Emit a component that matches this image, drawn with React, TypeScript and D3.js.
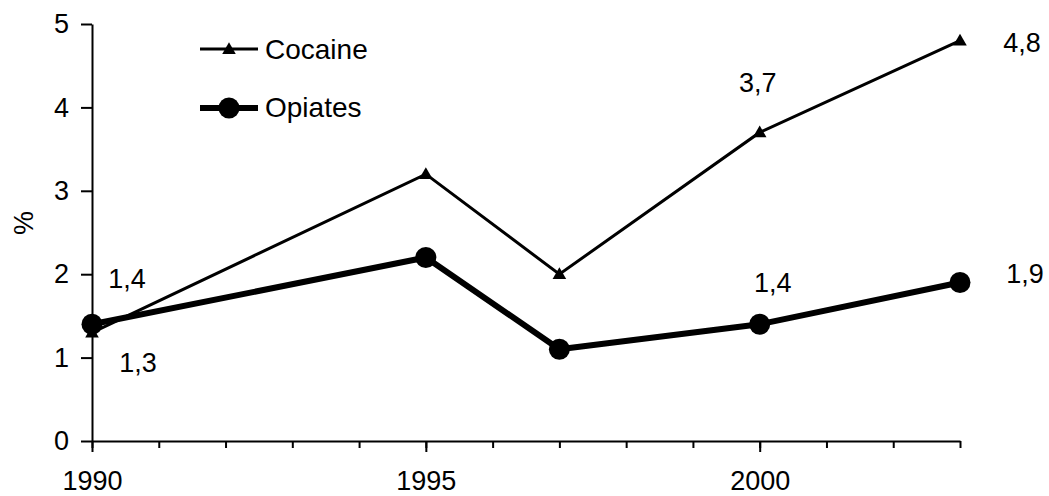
import React, { useEffect, useRef } from 'react'
import * as d3 from 'd3'

// data
const years = [1990, 1995, 1997, 2000, 2003]
const cocaine = [1.3, 3.2, 2.0, 3.7, 4.8]
const opiates = [1.4, 2.2, 1.1, 1.4, 1.9]
const yTicks = [0, 1, 2, 3, 4, 5]
const xTickYears = [1990, 1991, 1992, 1993, 1994, 1995, 1996, 1997, 1998, 1999, 2000, 2001, 2002, 2003]
const xLabelYears = [1990, 1995, 2000]
const seriesNames = ['Cocaine', 'Opiates']

// which points carry a value label
const cocaineLabelled = [0, 3, 4]
const opiatesLabelled = [0, 3, 4]

const W = 1049
const H = 496
const FONT = '"Liberation Sans", Arial, sans-serif'

function App() {
  const ref = useRef<SVGSVGElement>(null)

  useEffect(() => {
    const svg = d3.select(ref.current)
    svg.selectAll('*').remove()

    const x = d3.scaleLinear().domain([1990, 2003]).range([92, 960])
    const y = d3.scaleLinear().domain([0, 5]).range([441, 24])
    const fmt = (v: number) => d3.format('.1f')(v).replace('.', ',')

    const g = svg.append('g').attr('font-family', FONT)

    // y axis
    const yAxis = g.append('g')
      .attr('transform', 'translate(92,0)')
      .call(d3.axisLeft(y).tickValues(yTicks).tickSize(11).tickSizeOuter(0).tickPadding(12).tickFormat(d3.format('d')))
    yAxis.selectAll('text').attr('font-size', 27).attr('font-family', FONT).attr('fill', '#000')
    yAxis.selectAll('line, path').attr('stroke', '#000').attr('stroke-width', 2)

    // x axis: minor ticks every year
    const xMinor = g.append('g')
      .attr('transform', 'translate(0,441)')
      .call(d3.axisBottom(x).tickValues(xTickYears).tickSize(7).tickSizeOuter(0).tickFormat(() => ''))
    xMinor.selectAll('line, path').attr('stroke', '#000').attr('stroke-width', 2)

    // x axis: labelled major ticks
    const xMajor = g.append('g')
      .attr('transform', 'translate(0,441)')
      .call(d3.axisBottom(x).tickValues(xLabelYears).tickSize(11).tickSizeOuter(0).tickPadding(19).tickFormat(d3.format('d')))
    xMajor.select('path').remove()
    xMajor.selectAll('line').attr('stroke', '#000').attr('stroke-width', 2)
    xMajor.selectAll('text').attr('font-size', 27).attr('font-family', FONT).attr('fill', '#000')

    // y title
    g.append('text')
      .attr('transform', 'translate(33,223) rotate(-90)')
      .attr('text-anchor', 'middle')
      .attr('font-size', 27)
      .text('%')

    const line = d3.line<number>()
      .x((d, i) => x(years[i]))
      .y(d => y(d))

    const tri = d3.symbol().type(d3.symbolTriangle).size(80)

    // cocaine
    g.append('path')
      .datum(cocaine)
      .attr('d', line)
      .attr('fill', 'none')
      .attr('stroke', '#000')
      .attr('stroke-width', 3)
    g.append('g')
      .selectAll('path')
      .data(cocaine)
      .join('path')
      .attr('d', tri)
      .attr('transform', (d, i) => `translate(${x(years[i])},${y(d) + 1})`)
      .attr('fill', '#000')

    // opiates
    g.append('path')
      .datum(opiates)
      .attr('d', line)
      .attr('fill', 'none')
      .attr('stroke', '#000')
      .attr('stroke-width', 6)
      .attr('stroke-linejoin', 'round')
    g.append('g')
      .selectAll('circle')
      .data(opiates)
      .join('circle')
      .attr('cx', (d, i) => x(years[i]))
      .attr('cy', d => y(d))
      .attr('r', 10.5)
      .attr('fill', '#000')

    // value labels, offsets from the point
    const cocaineOffsets: Record<number, [number, number]> = { 0: [46, 39], 3: [-2, -40], 4: [62, 11] }
    const opiatesOffsets: Record<number, [number, number]> = { 0: [35, -36], 3: [13, -32], 4: [65, 0] }

    g.append('g')
      .selectAll('text')
      .data(cocaineLabelled)
      .join('text')
      .attr('x', i => x(years[i]) + cocaineOffsets[i][0])
      .attr('y', i => y(cocaine[i]) + cocaineOffsets[i][1])
      .attr('text-anchor', 'middle')
      .attr('font-size', 27)
      .text(i => fmt(cocaine[i]))

    g.append('g')
      .selectAll('text')
      .data(opiatesLabelled)
      .join('text')
      .attr('x', i => x(years[i]) + opiatesOffsets[i][0])
      .attr('y', i => y(opiates[i]) + opiatesOffsets[i][1])
      .attr('text-anchor', 'middle')
      .attr('font-size', 27)
      .text(i => fmt(opiates[i]))

    // legend
    const leg = g.append('g').attr('transform', 'translate(200,49)')
    leg.append('line').attr('x1', 0).attr('x2', 58).attr('y1', 0).attr('y2', 0)
      .attr('stroke', '#000').attr('stroke-width', 3)
    leg.append('path').attr('d', tri).attr('transform', 'translate(29,1)').attr('fill', '#000')
    leg.append('text').attr('x', 65).attr('y', 10).attr('font-size', 28).text(seriesNames[0])

    leg.append('line').attr('x1', 0).attr('x2', 58).attr('y1', 59).attr('y2', 59)
      .attr('stroke', '#000').attr('stroke-width', 6)
    leg.append('circle').attr('cx', 29).attr('cy', 59).attr('r', 10.5).attr('fill', '#000')
    leg.append('text').attr('x', 65).attr('y', 68).attr('font-size', 28).text(seriesNames[1])
  }, [])

  return (
    <div style={{ position: 'absolute', left: 0, top: 0, background: '#fff' }}>
      <svg ref={ref} width={W} height={H} style={{ display: 'block' }} />
    </div>
  )
}

export default App
